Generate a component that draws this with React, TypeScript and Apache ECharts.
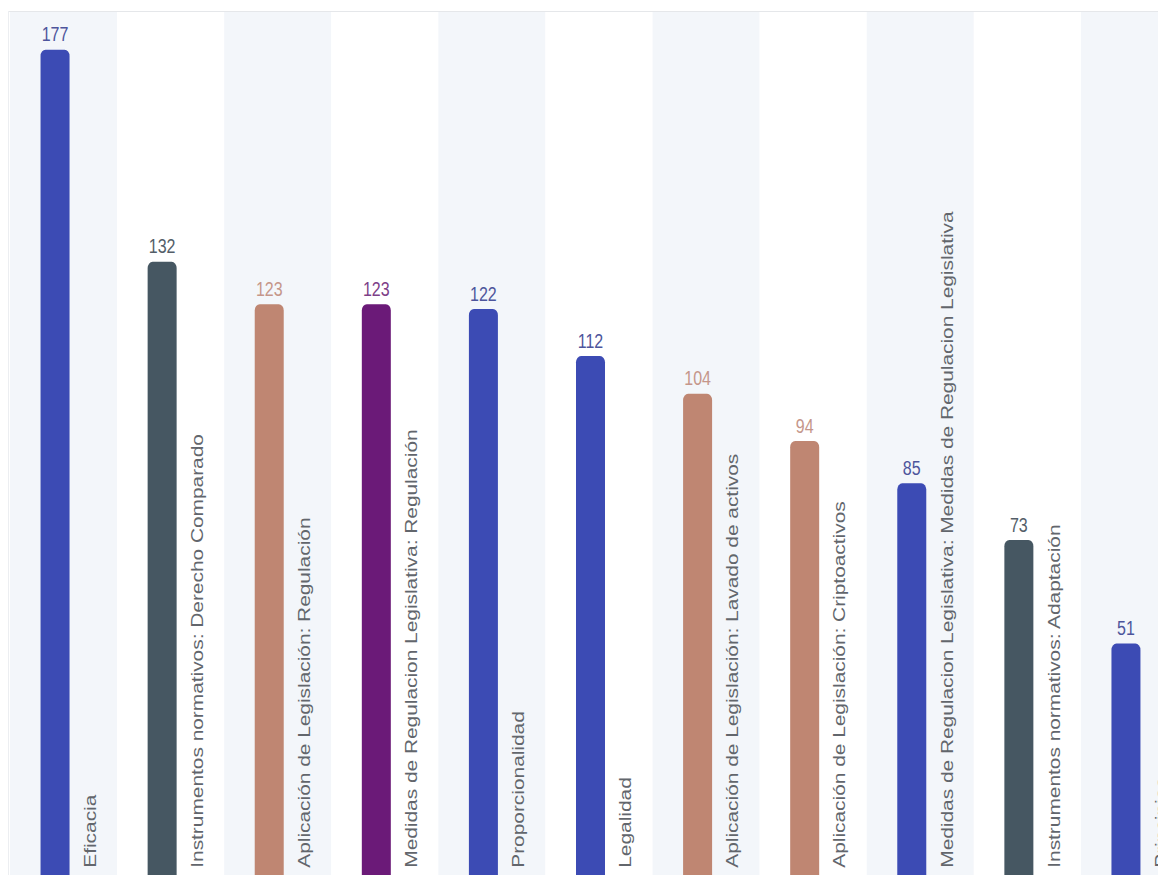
import React, { useEffect, useRef } from "react";
import * as echarts from "echarts";

const categories: string[] = [
  "Eficacia",
  "Instrumentos normativos: Derecho Comparado",
  "Aplicación de Legislación: Regulación",
  "Medidas de Regulacion Legislativa: Regulación",
  "Proporcionalidad",
  "Legalidad",
  "Aplicación de Legislación: Lavado de activos",
  "Aplicación de Legislación: Criptoactivos",
  "Medidas de Regulacion Legislativa: Medidas de Regulacion Legislativa",
  "Instrumentos normativos: Adaptación",
  "Principios",
];

const values: number[] = [177, 132, 123, 123, 122, 112, 104, 94, 85, 73, 51];

const groups: string[] = [
  "principios",
  "instrumentos",
  "aplicacion",
  "medidas",
  "principios",
  "principios",
  "aplicacion",
  "aplicacion",
  "principios",
  "instrumentos",
  "principios",
];

const groupColors: Record<string, string> = {
  principios: "#3c4bb4",
  instrumentos: "#465762",
  aplicacion: "#bf8672",
  medidas: "#6b1a78",
};

const valueLabelColors: Record<string, string> = {
  principios: "#4d559c",
  instrumentos: "#535e68",
  aplicacion: "#c5968a",
  medidas: "#7d4088",
};

export default function App() {
  const ref = useRef<HTMLDivElement>(null);

  useEffect(() => {
    if (!ref.current) return;
    const chart = echarts.init(ref.current, undefined, { renderer: "svg" });
    const font = "'Liberation Sans', Arial, sans-serif";
    chart.setOption({
      animation: false,
      grid: { left: 1, top: 0, width: 1178, height: 697.6 },
      xAxis: {
        type: "category",
        data: categories,
        axisLine: { show: false },
        axisTick: { show: false },
        axisLabel: { show: false, interval: 0 },
        splitLine: { show: false },
        splitArea: { show: true, interval: 0, areaStyle: { color: ["#f3f6fa", "#ffffff"] } },
      },
      yAxis: { type: "value", min: 0, max: 185, show: false },
      series: [
        {
          type: "bar",
          barWidth: 29,
          barGap: "0%",
          silent: true,
          data: values.map((v, i) => ({
            value: v,
            itemStyle: { color: groupColors[groups[i]], borderRadius: [5, 5, 0, 0] },
            label: { color: valueLabelColors[groups[i]] },
          })),
          label: {
            show: true,
            position: "top",
            distance: 4,
            fontSize: 16,
            fontFamily: font,
          },
        },
        {
          type: "bar",
          barWidth: 17,
          silent: true,
          data: values,
          itemStyle: { color: "rgba(0,0,0,0)" },
          label: {
            show: true,
            position: "insideBottom",
            rotate: 90,
            align: "left",
            verticalAlign: "middle",
            distance: 13,
            offset: [0, 12],
            color: "#62666c",
            fontSize: 16.7,
            fontFamily: font,
            formatter: (p: any) => categories[p.dataIndex],
          },
        },
      ],
    });
    return () => chart.dispose();
  }, []);

  return (
    <div style={{ position: "relative", width: 1158, height: 867, overflow: "hidden" }}>
      <div style={{ position: "absolute", top: 3, left: 0, right: 0, height: 1, background: "#e5e7ea" }} />
      <div style={{ position: "absolute", top: 3, left: 0, bottom: 0, width: 1, background: "#eceef1" }} />
      <div
        ref={ref}
        style={{
          position: "absolute",
          top: 4,
          left: 1,
          width: 1300,
          height: 700,
          transform: "scaleY(1.25)",
          transformOrigin: "top left",
        }}
      />
    </div>
  );
}
